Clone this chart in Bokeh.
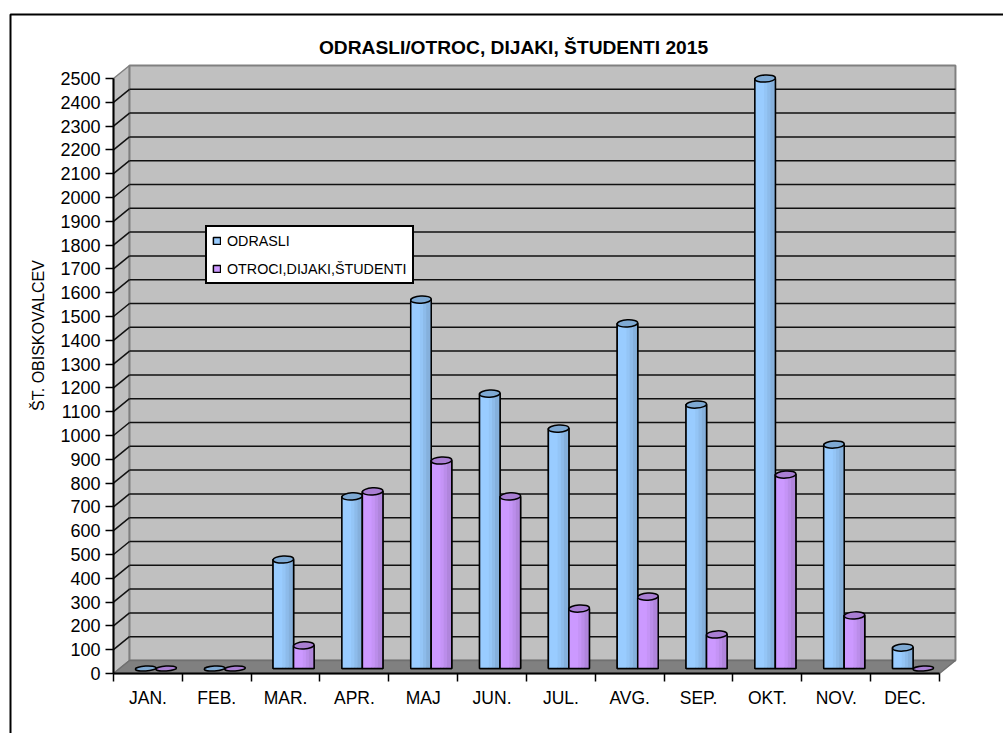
from bokeh.plotting import figure
from bokeh.embed import file_html
from bokeh.resources import INLINE
from bokeh.models import (Range1d, FixedTicker, Legend, LegendItem, Label, BoxAnnotation)

months = ["JAN.", "FEB.", "MAR.", "APR.", "MAJ", "JUN.", "JUL.", "AVG.", "SEP.", "OKT.", "NOV.", "DEC."]
odrasli = [0, 0, 458, 723, 1550, 1155, 1008, 1450, 1109, 2479, 941, 88]
otroci = [0, 0, 97, 744, 874, 723, 252, 302, 143, 815, 223, 0]
y_ticks = list(range(0, 2501, 100))

FONT = "Liberation Sans"
W, H = 1003, 733
X0, Y0 = 113, 673         # canvas position of the axes' origin
SX, SY = 68.83, 0.238     # pixels per category, pixels per visitor
DX, DY = 0.2325, 54.6     # depth of the 3-D box, in data units
BASE = 21                 # bars stand on the middle of the floor
BAR_W = 0.298

p = figure(width=W, height=H, output_backend="svg", toolbar_location=None,
           x_range=Range1d(-X0 / SX, (W - X0) / SX), y_range=Range1d(-(H - Y0) / SY, Y0 / SY),
           min_border=0, background_fill_color="white", border_fill_color="white")
p.outline_line_color = None
p.grid.visible = False

# axes, fixed at the origin inside the full-page frame
yax = p.yaxis[0]
yax.fixed_location = 0
yax.ticker = FixedTicker(ticks=y_ticks)
yax.bounds = (0, 2500)
yax.axis_line_color = "black"
yax.axis_line_width = 2
yax.major_tick_line_color = "black"
yax.major_tick_line_width = 1.5
yax.major_tick_in = 0
yax.major_tick_out = 8
yax.minor_tick_line_color = None
yax.major_label_text_font = FONT
yax.major_label_text_font_size = "18px"
yax.major_label_text_color = "black"
yax.major_label_standoff = 5

xax = p.xaxis[0]
xax.fixed_location = 0
xpos = [i + 0.5 for i in range(len(months))]
xax.ticker = FixedTicker(ticks=xpos, minor_ticks=list(range(len(months) + 1)))
xax.major_label_overrides = {x: m for x, m in zip(xpos, months)}
xax.bounds = (0, 12)
xax.axis_line_color = "black"
xax.axis_line_width = 2
xax.major_tick_line_color = None
xax.major_tick_in = 0
xax.major_tick_out = 0
xax.minor_tick_line_color = "black"
xax.minor_tick_line_width = 1.5
xax.minor_tick_in = 0
xax.minor_tick_out = 8
xax.major_label_text_font = FONT
xax.major_label_text_font_size = "17.5px"
xax.major_label_text_color = "black"
xax.major_label_standoff = 6

# 3-D box
p.patch([0, DX, DX, 0], [0, DY, 2500 + DY, 2500], fill_color="#C0C0C0", line_color="#808080", line_width=1.5)
p.quad(left=[DX], right=[12 + DX], bottom=[DY], top=[2500 + DY], fill_color="#C0C0C0",
       line_color="#808080", line_width=2)
p.patch([0, 12, 12 + DX, DX], [0, 0, DY, DY], fill_color="#808080", line_color="#707070", line_width=1.5)
inner = y_ticks[1:-1]
p.segment(x0=[DX] * len(inner), x1=[12 + DX] * len(inner), y0=[v + DY for v in inner], y1=[v + DY for v in inner],
          line_color="#111111", line_width=1.5)
p.segment(x0=[0] * len(inner), x1=[DX] * len(inner), y0=inner, y1=[v + DY for v in inner],
          line_color="#111111", line_width=1.5)


def bars(vals, shift, strips, top_color):
    centers = [i + 0.5 + DX / 2 + shift for i in range(len(vals))]
    left = [c - BAR_W / 2 for c in centers]
    tops = [BASE + v for v in vals]
    bottoms = [BASE] * len(vals)
    base = p.quad(left=left, right=[x + BAR_W for x in left], bottom=bottoms, top=tops,
                  fill_color=strips[0][2], line_color="black", line_width=1.5)
    for f0, f1, col in strips:
        p.quad(left=[x + f0 * BAR_W for x in left], right=[x + f1 * BAR_W for x in left],
               bottom=bottoms, top=tops, fill_color=col, line_color=None)
    p.quad(left=left, right=[x + BAR_W for x in left], bottom=bottoms, top=tops,
           fill_alpha=0, line_color="black", line_width=1.5)
    p.ellipse(x=centers, y=tops, width=[BAR_W] * len(vals), height=[21 if v < 5 else 30 for v in vals],
              angle=0.06, fill_color=top_color, line_color="black", line_width=1.5)
    return base


blue = [(0, .45, "#99CCFF"), (.45, .6, "#94C5F6"), (.6, .75, "#8DBBEA"), (.75, 1, "#85B0DC")]
purple = [(0, .45, "#CC99FF"), (.45, .6, "#C594F6"), (.6, .75, "#BB8DEA"), (.75, 1, "#B085DC")]
r1 = bars(odrasli, -BAR_W / 2, blue, "#7EA9D3")
r2 = bars(otroci, BAR_W / 2, purple, "#A97ED3")

legend = Legend(items=[LegendItem(label="ODRASLI", renderers=[r1]),
                       LegendItem(label="OTROCI,DIJAKI,ŠTUDENTI", renderers=[r2])],
                location=(205, H - 284), margin=0, padding=5, spacing=11,
                glyph_width=9, glyph_height=9, label_standoff=6, label_height=17,
                label_text_font=FONT, label_text_font_size="14.3px", label_text_color="black",
                border_line_color="black", border_line_width=2, border_line_alpha=1,
                background_fill_color="white", background_fill_alpha=1)
p.add_layout(legend, "center")

p.add_layout(Label(x=513, y=47, x_units="canvas", y_units="canvas", text="ODRASLI/OTROC, DIJAKI, ŠTUDENTI 2015",
                   text_align="center", text_baseline="middle", text_font=FONT, text_font_size="19.2px",
                   text_font_style="bold", text_color="black"))
p.add_layout(Label(x=38, y=335, x_units="canvas", y_units="canvas", text="ŠT. OBISKOVALCEV", angle=90,
                   angle_units="deg", text_align="center", text_baseline="middle",
                   text_font=FONT, text_font_size="16px", text_color="black"))

p.add_layout(BoxAnnotation(left=10, right=1200, top=14, bottom=1200, left_units="canvas", right_units="canvas",
                           top_units="canvas", bottom_units="canvas", fill_alpha=0, fill_color=None,
                           line_color="black", line_width=2, line_alpha=1, level="overlay"))

open("out.html", "w").write(file_html(p, INLINE))
